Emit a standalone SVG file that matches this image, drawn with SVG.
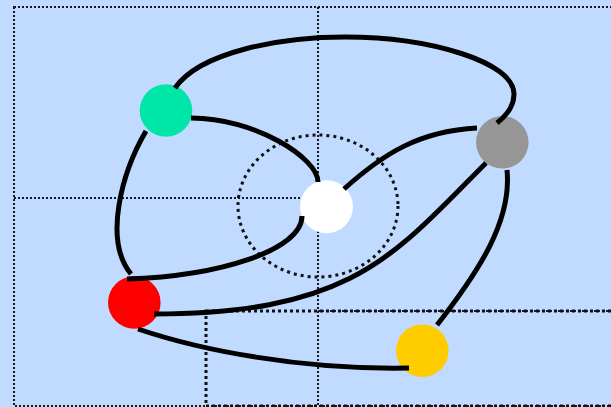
<svg xmlns="http://www.w3.org/2000/svg" width="611" height="407" viewBox="0 0 611 407">
  <style>
    .thin { fill: none; stroke: #1a1a1a; stroke-width: 2; stroke-dasharray: 2 2; }
    .thick { fill: none; stroke: #111; stroke-width: 3; stroke-dasharray: 3 3; }
    .ring { fill: none; stroke: #111; stroke-width: 3; stroke-dasharray: 3 4; }
    .edge { fill: none; stroke: #000; stroke-width: 5; stroke-linecap: butt; }
  </style>
  <rect x="0" y="0" width="611" height="407" fill="#c0dbff"/>
  <g id="grid">
    <rect class="thin" x="14" y="7" width="640" height="399"/>
    <line class="thin" x1="318" y1="7" x2="318" y2="406"/>
    <line class="thin" x1="14" y1="198" x2="318" y2="198"/>
    <line class="thin" x1="318" y1="311" x2="611" y2="311"/>
    <rect class="thick" x="206" y="311" width="500" height="95"/>
    <ellipse class="ring" cx="318" cy="206" rx="80" ry="71"/>
  </g>
  <g id="nodes">
    <g id="green"><circle cx="166" cy="110.5" r="26.3" fill="#00e5a8"/></g>
    <g id="white"><circle cx="326.5" cy="206.7" r="26.5" fill="#ffffff"/></g>
    <g id="red"><circle cx="134.3" cy="302.5" r="26.3" fill="#ff0000"/></g>
    <g id="gray"><circle cx="502.3" cy="142.3" r="26.3" fill="#969696"/></g>
    <g id="yellow"><circle cx="422.3" cy="350.7" r="26.3" fill="#ffcc00"/></g>
  </g>
  <g id="connectors">
    <path class="edge" d="M175,88 C200,52 280,37 345,37 C430,37 514,62 514,94 C514,107 506,116 497,123"/>
    <path class="edge" d="M191,118 C255,118 318,158 318,182"/>
    <path class="edge" d="M146,131 C122,172 103,240 131,274"/>
    <path class="edge" d="M127,279 C220,276 302,250 302,216"/>
    <path class="edge" d="M344,189 C384,153 420,131 477,128"/>
    <path class="edge" d="M154,314 C354,314 396,253 486,163"/>
    <path class="edge" d="M507,170 C512,220 480,270 437,325"/>
    <path class="edge" d="M138,329 C200,350 300,370 409,368"/>
  </g>
</svg>
